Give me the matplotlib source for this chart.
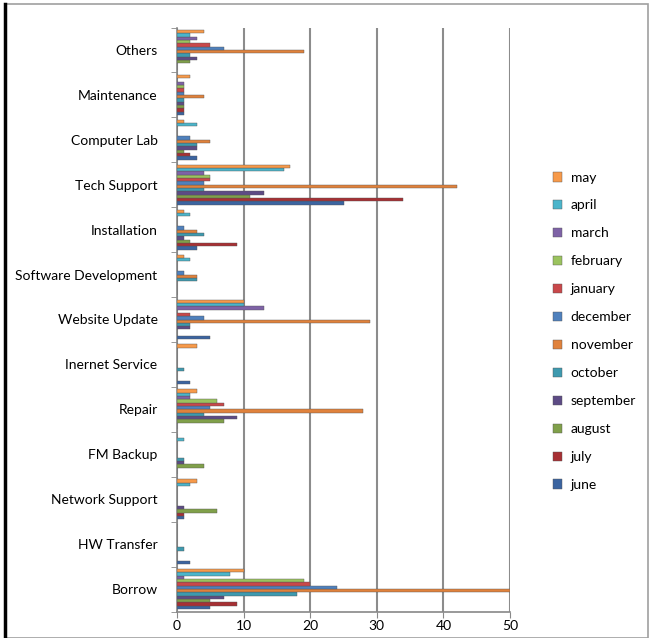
import numpy as np
import matplotlib
matplotlib.use("Agg")
import matplotlib.pyplot as plt
from matplotlib.patches import Rectangle

plt.rcParams['font.family'] = ['Lato', 'DejaVu Sans']

# categories, bottom to top
categories = ['Borrow', 'HW Transfer', 'Network Support', 'FM Backup', 'Repair',
              'Inernet Service', 'Website Update', 'Software Development',
              'Installation', 'Tech Support', 'Computer Lab', 'Maintenance', 'Others']

# one list per month, values in category order above
june      = [5, 2, 1, 0, 0, 2, 5, 0, 3, 25, 3, 1, 0]
july      = [9, 0, 1, 0, 0, 0, 0, 0, 9, 34, 2, 1, 0]
august    = [5, 0, 6, 4, 7, 0, 0, 0, 2, 11, 1, 1, 2]
september = [7, 0, 1, 1, 9, 0, 2, 0, 1, 13, 3, 1, 3]
october   = [18, 1, 0, 1, 4, 1, 2, 3, 4, 4, 3, 1, 2]
november  = [50, 0, 0, 0, 28, 0, 29, 3, 3, 42, 5, 4, 19]
december  = [24, 0, 0, 0, 5, 0, 4, 1, 1, 4, 2, 1, 7]
january   = [20, 0, 0, 0, 7, 0, 2, 0, 0, 5, 0, 1, 5]
february  = [19, 0, 0, 0, 6, 0, 0, 0, 0, 5, 0, 1, 2]
march     = [1, 0, 0, 0, 2, 0, 13, 0, 0, 4, 0, 1, 3]
april     = [8, 0, 2, 1, 2, 0, 10, 2, 2, 16, 3, 0, 2]
may       = [10, 0, 3, 0, 3, 3, 10, 1, 1, 17, 1, 2, 4]

months = ['june', 'july', 'august', 'september', 'october', 'november',
          'december', 'january', 'february', 'march', 'april', 'may']
series = [june, july, august, september, october, november,
          december, january, february, march, april, may]
colors = ['#3B64A0', '#A73034', '#80A04A', '#5D4B85', '#3E9AAF', '#E0823C',
          '#4F81BD', '#C9484A', '#9BC35E', '#7E62A6', '#4BB5CB', '#F79A4A']

fig = plt.figure(figsize=(6.66, 6.38), dpi=100)
ax = fig.add_axes([177/666, 26.5/638, 333/666, 584/638])

n = len(series)
w = 1 / 13.5
y = np.arange(len(categories))
bars = []
for j, (vals, c) in enumerate(zip(series, colors)):
    b = ax.barh(y - n * w / 2 + (j + 0.5) * w, vals, height=w, color=c,
                edgecolor='#555555', linewidth=0.3, zorder=3)
    bars.append(b)

ax.set_xlim(0, 50)
ax.set_ylim(-0.5, len(categories) - 0.5)
ax.set_xticks(range(0, 51, 10))
ax.set_yticks(y)
ax.set_yticklabels(categories, fontsize=10)
ax.set_yticks(np.arange(-0.5, len(categories), 1), minor=True)
ax.tick_params(axis='y', which='major', length=0, pad=14)
ax.tick_params(axis='y', which='minor', length=4, color='#888888')
ax.tick_params(axis='x', length=4, color='#888888', labelsize=10, pad=2)
ax.grid(axis='x', color='#8c8c8c', linewidth=1.5, zorder=0)
for s in ['top', 'right']:
    ax.spines[s].set_visible(False)
for s in ['left', 'bottom']:
    ax.spines[s].set_color('#888888')
    ax.spines[s].set_linewidth(1.2)

leg = fig.legend(bars[::-1], months[::-1], loc='upper left',
                 bbox_to_anchor=(540/666, 1 - 159/638), frameon=False,
                 fontsize=10, handlelength=0.7, handleheight=0.7,
                 labelspacing=1.15, handletextpad=0.6)

# outer frame
fig.add_artist(Rectangle((5/666, 0), 643/666, 634/638, transform=fig.transFigure,
                         fill=False, edgecolor='#a0a0a0', linewidth=1.2))
fig.add_artist(plt.Line2D([5/666, 5/666], [0, 634/638], transform=fig.transFigure,
                          color='black', linewidth=2.5))

fig.savefig('out.png', dpi=100)
